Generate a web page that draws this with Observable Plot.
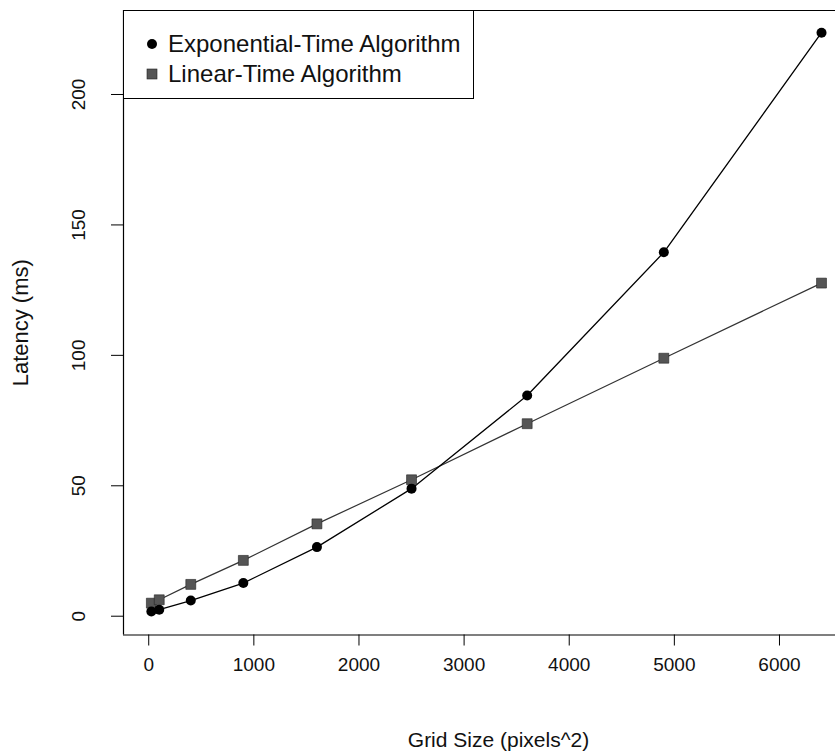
<!DOCTYPE html>
<html>
<head>
<meta charset="utf-8">
<script src="https://cdn.jsdelivr.net/npm/d3@7"></script>
<script src="https://cdn.jsdelivr.net/npm/@observablehq/plot@0.6"></script>
<style>
  body { margin: 0; background: #fff; }
  #wrap { position: relative; width: 835px; height: 755px; font-family: "Liberation Sans", Arial, Helvetica, sans-serif; color: #111; }
  #legend { position: absolute; left: 123px; top: 10px; width: 351px; height: 89px; border: 1px solid #000; background: #fff; box-sizing: border-box; }
  #legend .item { position: absolute; left: 0; height: 30px; display: flex; align-items: center; font-size: 24px; white-space: nowrap; }
  #legend svg { margin-left: 21px; margin-right: 9px; }
</style>
</head>
<body>
<div id="wrap"></div>
<script>
// ---- data ----
const gridSize   = [25, 100, 400, 900, 1600, 2500, 3600, 4900, 6400];
const expLatency = [1.8, 2.5, 6.0, 12.7, 26.5, 48.9, 84.6, 139.5, 223.7];
const linLatency = [5.0, 6.3, 12.2, 21.4, 35.4, 52.3, 73.8, 98.9, 127.7];
const seriesNames = ["Exponential-Time Algorithm", "Linear-Time Algorithm"];
const xTicks = [0, 1000, 2000, 3000, 4000, 5000, 6000];
const yTicks = [0, 50, 100, 150, 200];
const xTitle = "Grid Size (pixels^2)";
const yTitle = "Latency (ms)";

const expData = gridSize.map((g, i) => ({x: g, y: expLatency[i], s: seriesNames[0]}));
const linData = gridSize.map((g, i) => ({x: g, y: linLatency[i], s: seriesNames[1]}));

const xDomain = [-240, 6533];
const yDomain = [-7.2, 232.2];

const chart = Plot.plot({
  width: 835,
  height: 755,
  marginLeft: 123,
  marginRight: 0,
  marginTop: 10,
  marginBottom: 120.5,
  x: {domain: xDomain},
  y: {domain: yDomain},
  style: {fontFamily: '"Liberation Sans", Arial, Helvetica, sans-serif', fontSize: "19px", color: "#111", background: "#fff", overflow: "visible"},
  marks: [
    Plot.ruleX([xDomain[0]], {stroke: "#000", strokeWidth: 1.2}),
    Plot.ruleY(yDomain, {stroke: "#000", strokeWidth: 1.2}),
    Plot.axisX({ticks: xTicks, tickFormat: d3.format("d"), tickSize: 11, tickPadding: 11, label: null, fontSize: 19, stroke: "#000"}),
    Plot.axisY({ticks: yTicks, tickFormat: d3.format("d"), tickSize: 12, tickPadding: 27, tickRotate: -90, label: null, fontSize: 19, stroke: "#000"}),
    Plot.line(linData, {x: "x", y: "y", stroke: "#333", strokeWidth: 1.2}),
    Plot.line(expData, {x: "x", y: "y", stroke: "#000", strokeWidth: 1.3}),
    Plot.dot(linData, {x: "x", y: "y", symbol: "square", r: 5.6, fill: "#555", stroke: "#222", strokeWidth: 0.6}),
    Plot.dot(expData, {x: "x", y: "y", symbol: "circle", r: 5, fill: "#000"}),
    Plot.text([xTitle], {frameAnchor: "bottom", dx: 19, dy: 105.5, fontSize: 21, textAnchor: "middle", lineAnchor: "middle", fill: "#111"}),
    Plot.text([yTitle], {frameAnchor: "left", dx: -103, rotate: -90, fontSize: 22, textAnchor: "middle", lineAnchor: "middle", fill: "#111"})
  ]
});

const wrap = document.getElementById("wrap");
wrap.appendChild(chart);

// legend (HTML overlay on the plot's top-left corner)
const legend = document.createElement("div");
legend.id = "legend";
const symbols = [
  '<svg width="14" height="14"><circle cx="7" cy="7" r="5" fill="#000"/></svg>',
  '<svg width="14" height="14"><rect x="2" y="2" width="10" height="10" fill="#555" stroke="#222" stroke-width="0.6"/></svg>'
];
const tops = [18, 48];
seriesNames.forEach((name, i) => {
  const item = document.createElement("div");
  item.className = "item";
  item.style.top = tops[i] + "px";
  item.innerHTML = symbols[i] + "<span>" + name + "</span>";
  legend.appendChild(item);
});
wrap.appendChild(legend);
</script>
</body>
</html>
